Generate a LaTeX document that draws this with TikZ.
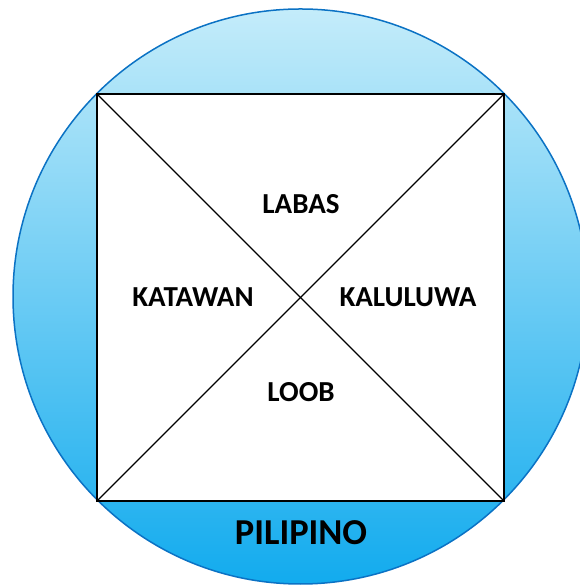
\documentclass[tikz,border=0pt]{standalone}
\usepackage{fontspec}
\setmainfont{Carlito}
\usepackage{xcolor}
\usetikzlibrary{positioning}

\definecolor{ringblue}{HTML}{0B72C4}
\definecolor{topblue}{HTML}{C4ECFA}
\definecolor{botblue}{HTML}{12ABEE}

\begin{document}
\begin{tikzpicture}[
    x=1pt, y=1pt,
    ring/.style={circle, draw=ringblue, line width=1.5pt, minimum size=575pt, inner sep=0pt, outer sep=0pt,
                 top color=topblue, bottom color=botblue},
    square/.style={draw, fill=white, line width=1.4pt, minimum size=407pt, inner sep=0pt, outer sep=0pt},
    part/.style={font=\fontsize{29}{32}\selectfont\bfseries},
    whole/.style={font=\fontsize{36.5}{40}\selectfont\bfseries}
]
    \useasboundingbox (0,0) rectangle (579,585);

    \node[ring] (circ) at (300.5,288.5) {};
    \node[square] (sq) at (300.5,287.5) {};

    \draw[line width=1.1pt] (sq.north west) -- (sq.south east);
    \draw[line width=1.1pt] (sq.north east) -- (sq.south west);

    \node[part] (labas) at (301,381) {LABAS};
    \node[part] (katawan) at (193,288) {KATAWAN};
    \node[part] (kaluluwa) at (408,288) {KALULUWA};
    \node[part] (loob) at (301,193) {LOOB};
    \node[whole] (pilipino) at (301,52) {PILIPINO};
\end{tikzpicture}
\end{document}
